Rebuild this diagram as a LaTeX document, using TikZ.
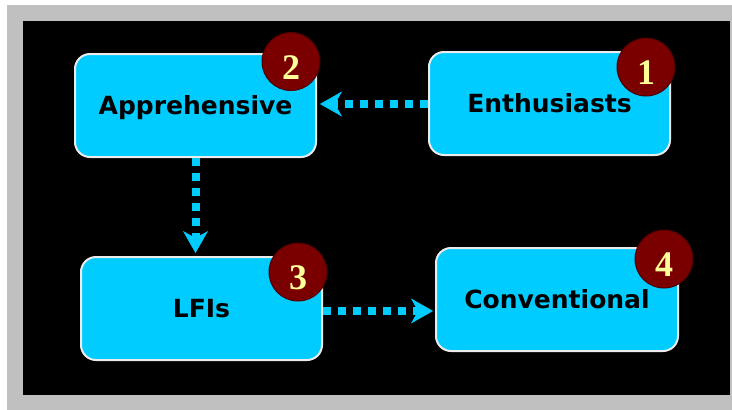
\documentclass[tikz,border=0pt]{standalone}
\usepackage{fontspec}
\usetikzlibrary{arrows.meta}
\newfontfamily\boxfont{DejaVu Sans}
\newfontfamily\digitfont{Liberation Serif}
\definecolor{boxcyan}{RGB}{0,204,255}
\definecolor{badgered}{RGB}{122,0,0}
\definecolor{badgerim}{RGB}{80,0,0}
\definecolor{digityellow}{RGB}{255,255,153}
\definecolor{framegray}{RGB}{192,192,192}
\definecolor{boxrim}{RGB}{235,235,235}
\tikzset{
  stagebox/.style={draw=boxrim, fill=boxcyan, line width=2pt, rounded corners=15pt,
    minimum width=241pt, minimum height=103pt, inner sep=0pt,
    font=\boxfont\bfseries\fontsize{25}{25}\selectfont, text=black,
    text height=18pt, text depth=0pt},
  badge/.style={circle, draw=badgerim, fill=badgered, line width=1pt, minimum size=58pt,
    inner sep=0pt, font=\digitfont\bfseries\fontsize{36}{36}\selectfont, text=digityellow,
    text height=35pt, text depth=0pt},
  flow/.style={draw=boxcyan, line width=8pt, dash pattern=on 8pt off 7pt,
    -{Stealth[length=22pt,width=25pt,inset=7pt,line width=0.5pt]}}
}
\begin{document}
\begin{tikzpicture}[x=1pt,y=-1pt]
\useasboundingbox (0,0) rectangle (732,410);
\fill[white] (0,0) rectangle (732,410);
\fill[framegray] (7,5) rectangle (732,410);
\fill[black] (23,21) rectangle (730,395);
% boxes
\node[stagebox] (appr) at (195.5,105.5) {Apprehensive};
\node[stagebox] (enth) at (549.5,103.5) {Enthusiasts};
\node[stagebox] (lfi)  at (201.5,308.5) {LFIs};
\node[stagebox, minimum width=242pt] (conv) at (557,299.5) {Conventional};
% connectors
\coordinate (s1) at ([yshift=-0.5pt]enth.west);
\draw[flow, shorten >=3pt] (s1) -- (s1 -| appr.east);
\draw[flow, shorten >=3pt] (appr.south) -- (appr.south |- lfi.north);
\coordinate (s3) at ([yshift=-2.5pt]lfi.east);
\draw[flow, shorten >=2pt] (s3) -- (s3 -| conv.west);
% badges
\node[badge] (b2) at (291,61.5) {2};
\node[badge] (b1) at (646,67) {1};
\node[badge] (b3) at (298,272) {3};
\node[badge] (b4) at (664,259) {4};
\end{tikzpicture}
\end{document}
